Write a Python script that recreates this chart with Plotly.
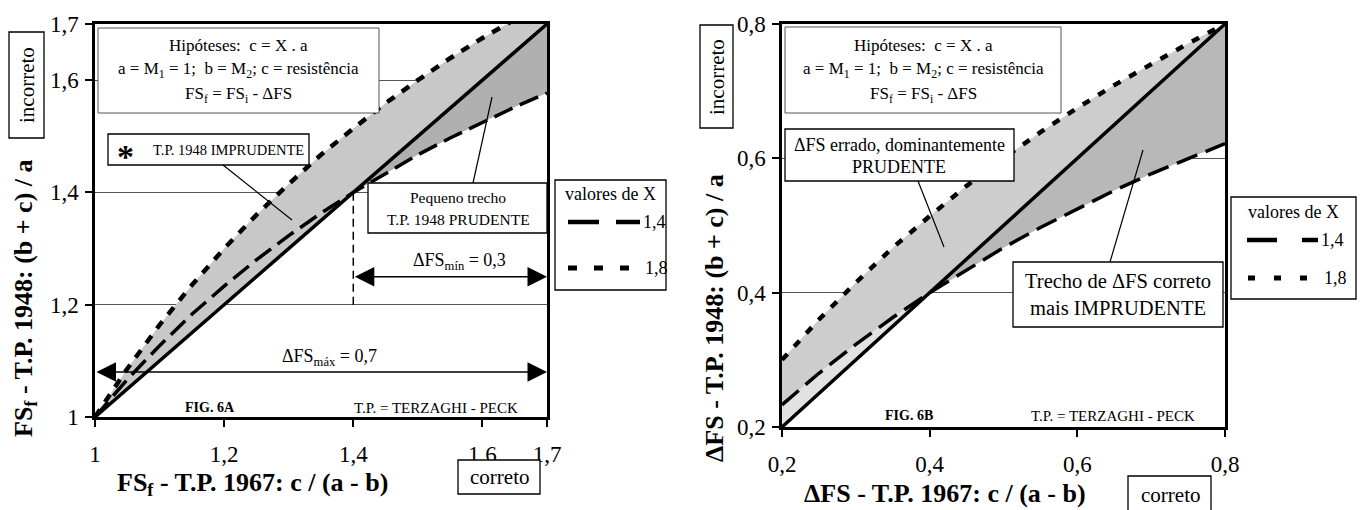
import plotly.graph_objects as go

W, H = 1361, 510
FONT = "Liberation Serif"

# ---------------- FIG. 6A : FS_f ----------------
fs67 = [1.00, 1.05, 1.10, 1.15, 1.20, 1.25, 1.30, 1.35, 1.40,
        1.45, 1.50, 1.55, 1.60, 1.65, 1.70]
fs48_x14 = [1.000, 1.067, 1.127, 1.183, 1.233, 1.280, 1.323, 1.363, 1.400,
            1.434, 1.467, 1.497, 1.525, 1.552, 1.577]
fs48_x18 = [1.000, 1.086, 1.164, 1.235, 1.300, 1.360, 1.415, 1.467, 1.514,
            1.559, 1.600, 1.639, 1.675, 1.709, 1.741]
fs_ticks = [1.0, 1.2, 1.4, 1.6, 1.7]
fs_ticktext = ["1", "1,2", "1,4", "1,6", "1,7"]
fs_i = 1.7
dfs_min, dfs_max = 0.3, 0.7

# ---------------- FIG. 6B : ΔFS ----------------
dfs67 = [0.20, 0.25, 0.30, 0.35, 0.40, 0.45, 0.50, 0.55, 0.60,
         0.65, 0.70, 0.75, 0.80]
dfs48_x14 = [0.233, 0.280, 0.323, 0.363, 0.400, 0.434, 0.467, 0.497, 0.525,
             0.552, 0.577, 0.600, 0.622]
dfs48_x18 = [0.300, 0.360, 0.415, 0.467, 0.514, 0.559, 0.600, 0.639, 0.675,
             0.709, 0.740, 0.771, 0.800]
dfs_ticks = [0.2, 0.4, 0.6, 0.8]
dfs_ticktext = ["0,2", "0,4", "0,6", "0,8"]

x_values = ["1,4", "1,8"]


def fx(p):
    return p / W


def fy(p):
    return 1 - p / H


def band(xs, upper, lower):
    return xs + xs[::-1], upper + lower[::-1]


fig = go.Figure()

# ----- FIG. 6A shaded areas -----
bx, by = band(fs67, fs48_x18, fs67)
fig.add_trace(go.Scatter(x=bx, y=by, fill="toself", fillcolor="#c8c8c8",
                         line=dict(width=0), mode="lines", hoverinfo="skip",
                         xaxis="x", yaxis="y"))
k = fs67.index(1.40)
bx, by = band(fs67[k:], fs67[k:], fs48_x14[k:])
fig.add_trace(go.Scatter(x=bx, y=by, fill="toself", fillcolor="#b0b0b0",
                         line=dict(width=0), mode="lines", hoverinfo="skip",
                         xaxis="x", yaxis="y"))

# ----- FIG. 6A curves -----
fig.add_trace(go.Scatter(x=fs67, y=fs48_x14, mode="lines",
                         line=dict(color="black", width=3.5, dash="20px,8px"),
                         xaxis="x", yaxis="y"))
fig.add_trace(go.Scatter(x=fs67, y=fs48_x18, mode="lines",
                         line=dict(color="black", width=4.5, dash="9px,9px"),
                         xaxis="x", yaxis="y"))
fig.add_trace(go.Scatter(x=fs67, y=fs67, mode="lines",
                         line=dict(color="black", width=3.5),
                         xaxis="x", yaxis="y"))

# ----- FIG. 6B shaded areas -----
upper_band = dfs48_x18
lower_band = [max(a, b) for a, b in zip(dfs48_x14, dfs67)]
bx, by = band(dfs67, upper_band, lower_band)
fig.add_trace(go.Scatter(x=bx, y=by, fill="toself", fillcolor="#cdcdcd",
                         line=dict(width=0), mode="lines", hoverinfo="skip",
                         xaxis="x2", yaxis="y2"))
m = dfs67.index(0.40)
bx, by = band(dfs67[:m + 1], dfs48_x14[:m + 1], dfs67[:m + 1])
fig.add_trace(go.Scatter(x=bx, y=by, fill="toself", fillcolor="#e2e2e2",
                         line=dict(width=0), mode="lines", hoverinfo="skip",
                         xaxis="x2", yaxis="y2"))
bx, by = band(dfs67[m:], dfs67[m:], dfs48_x14[m:])
fig.add_trace(go.Scatter(x=bx, y=by, fill="toself", fillcolor="#b8b8b8",
                         line=dict(width=0), mode="lines", hoverinfo="skip",
                         xaxis="x2", yaxis="y2"))

# ----- FIG. 6B curves -----
fig.add_trace(go.Scatter(x=dfs67, y=dfs48_x14, mode="lines",
                         line=dict(color="black", width=3.5, dash="22px,9px"),
                         xaxis="x2", yaxis="y2"))
fig.add_trace(go.Scatter(x=dfs67, y=dfs48_x18, mode="lines",
                         line=dict(color="black", width=4.5, dash="8px,10px"),
                         xaxis="x2", yaxis="y2"))
fig.add_trace(go.Scatter(x=dfs67, y=dfs67, mode="lines",
                         line=dict(color="black", width=3.5),
                         xaxis="x2", yaxis="y2"))

axis_common = dict(showline=True, linecolor="black", linewidth=2.5, mirror=True,
                   ticks="outside", ticklen=7, tickwidth=1.5, tickcolor="black",
                   zeroline=False, automargin=False,
                   tickfont=dict(family=FONT, size=23, color="black"))

fig.update_layout(
    width=W, height=H, autosize=False,
    margin=dict(l=0, r=0, t=0, b=0, pad=0),
    paper_bgcolor="white", plot_bgcolor="white",
    showlegend=False,
    font=dict(family=FONT, color="black"),
    xaxis=dict(domain=[fx(95), fx(547)], range=[1.0, 1.7], anchor="y",
               tickvals=fs_ticks, ticktext=fs_ticktext, showgrid=False,
               ticklabelstandoff=8, **axis_common),
    yaxis=dict(domain=[fy(417), fy(24)], range=[1.0, 1.7], anchor="x",
               tickvals=fs_ticks, ticktext=fs_ticktext, showgrid=True,
               gridcolor="#555", gridwidth=1, ticklabelstandoff=2, **axis_common),
    xaxis2=dict(domain=[fx(782), fx(1225)], range=[0.2, 0.8], anchor="y2",
                tickvals=dfs_ticks, ticktext=dfs_ticktext, showgrid=False,
                ticklabelstandoff=8, **axis_common),
    yaxis2=dict(domain=[fy(427), fy(24)], range=[0.2, 0.8], anchor="x2",
                tickvals=dfs_ticks, ticktext=dfs_ticktext, showgrid=True,
                gridcolor="#555", gridwidth=1, ticklabelstandoff=2, **axis_common),
)

shapes = []
ann = []


def box(x0, y0, x1, y1, color="black", width=1.3):
    shapes.append(dict(type="rect", xref="paper", yref="paper",
                       x0=fx(x0), x1=fx(x1), y0=fy(y1), y1=fy(y0),
                       line=dict(color=color, width=width), fillcolor="white",
                       layer="above"))


def seg(x0, y0, x1, y1, width=1.2, dash="solid"):
    shapes.append(dict(type="line", xref="paper", yref="paper",
                       x0=fx(x0), x1=fx(x1), y0=fy(y0), y1=fy(y1),
                       line=dict(color="black", width=width, dash=dash),
                       layer="above"))


def text(x, y, s, size, bold=False, angle=0, xanchor="center"):
    ann.append(dict(xref="paper", yref="paper", x=fx(x), y=fy(y),
                    text=f"<b>{s}</b>" if bold else s, showarrow=False,
                    xanchor=xanchor, yanchor="middle", textangle=angle,
                    font=dict(family=FONT, size=size, color="black")))


NB = "\u00a0"

# ===== FIG. 6A annotations =====
box(98, 28, 379, 113, color="#555", width=1)
text(238, 45, f"Hipóteses:{NB}{NB}c = X . a", 17)
text(238, 70, f"a = M<sub>1</sub> = 1;{NB}{NB}b = M<sub>2</sub>; c = resistência", 17)
text(238, 95, "FS<sub>f</sub> = FS<sub>i</sub> - ΔFS", 17)

box(108, 134, 309, 165)
text(125, 156, "*", 34, bold=True)
text(228, 150, "T.P. 1948 IMPRUDENTE", 14.5)
seg(223, 165, 292, 220)

box(368, 183, 547, 233)
text(458, 198, "Pequeno trecho", 15.5)
text(458, 219, "T.P. 1948 PRUDENTE", 15.5)
seg(473, 183, 492, 97)

shapes.append(dict(type="line", xref="x", yref="y",
                   x0=fs_i - dfs_min, x1=fs_i - dfs_min, y0=1.2, y1=1.4,
                   line=dict(color="black", width=1.5, dash="8px,5px"), layer="above"))


def fmt(v):
    return f"{v:.1f}".replace(".", ",")


for lo, y_arrow, label, lx, ly in [
        (fs_i - dfs_min, 1.25, f"ΔFS<sub>mín</sub> = {fmt(dfs_min)}", 460, 261),
        (fs_i - dfs_max, 1.08, f"ΔFS<sub>máx</sub> = {fmt(dfs_max)}", 329, 357)]:
    ann.append(dict(xref="x", yref="y", axref="x", ayref="y",
                    x=fs_i, y=y_arrow, ax=lo, ay=y_arrow, text="",
                    showarrow=True, arrowhead=2, arrowside="end+start",
                    arrowsize=2.6, arrowwidth=1.5, arrowcolor="black",
                    standoff=0, startstandoff=0))
    text(lx, ly, label, 18)

text(210, 407, "FIG. 6A", 14, bold=True)
text(436, 408, "T.P. = TERZAGHI - PECK", 15)

# axis titles and labels
text(252, 484, "FS<sub>f</sub> - T.P. 1967: c / (a - b)", 26, bold=True)
text(25, 298, "FS<sub>f</sub> - T.P. 1948: (b + c) / a", 26, bold=True, angle=-90)
box(9, 32, 44, 138)
text(27, 85, "incorreto", 21, angle=-90)
box(458, 460, 540, 494)
text(499, 477, "correto", 21)

# legend
box(555, 180, 666, 290)
text(610, 194, "valores de X", 18)
seg(568, 222, 640, 222, width=4.5, dash="31px,17px")
text(641, 222, x_values[0], 18, xanchor="left")
seg(568, 268, 630, 268, width=5, dash="9px,17px")
text(643, 268, x_values[1], 18, xanchor="left")

# ===== FIG. 6B annotations =====
box(785, 27, 1061, 113, color="#555", width=1)
text(923, 45, f"Hipóteses:{NB}{NB}c = X . a", 17)
text(923, 70, f"a = M<sub>1</sub> = 1;{NB}{NB}b = M<sub>2</sub>; c = resistência", 17)
text(923, 95, "FS<sub>f</sub> = FS<sub>i</sub> - ΔFS", 17)

box(785, 129, 1014, 181)
text(899, 145, "ΔFS errado, dominantemente", 18)
text(899, 167, "PRUDENTE", 18)
seg(918, 181, 944, 247)

box(1013, 262, 1223, 327)
text(1118, 281, "Trecho de ΔFS correto", 20.5)
text(1118, 308, "mais IMPRUDENTE", 20.5)
seg(1110, 262, 1143, 150)

text(909, 415, "FIG. 6B", 14, bold=True)
text(1113, 416, "T.P. = TERZAGHI - PECK", 15)

text(945, 493, "ΔFS - T.P. 1967: c / (a - b)", 26, bold=True)
text(714, 318, "ΔFS - T.P. 1948: (b + c) / a", 26, bold=True, angle=-90)
box(700, 25, 733, 128)
text(717, 77, "incorreto", 21, angle=-90)
box(1128, 476, 1211, 515)
text(1170, 495, "correto", 21)

box(1231, 197, 1356, 299)
text(1293, 212, "valores de X", 18)
seg(1247, 240, 1318, 240, width=4.5, dash="30px,25px")
text(1319, 240, x_values[0], 18, xanchor="left")
seg(1248, 278, 1310, 278, width=5, dash="7px,19px")
text(1322, 278, x_values[1], 18, xanchor="left")

fig.update_layout(shapes=shapes, annotations=ann)
fig.write_html("out.html")
